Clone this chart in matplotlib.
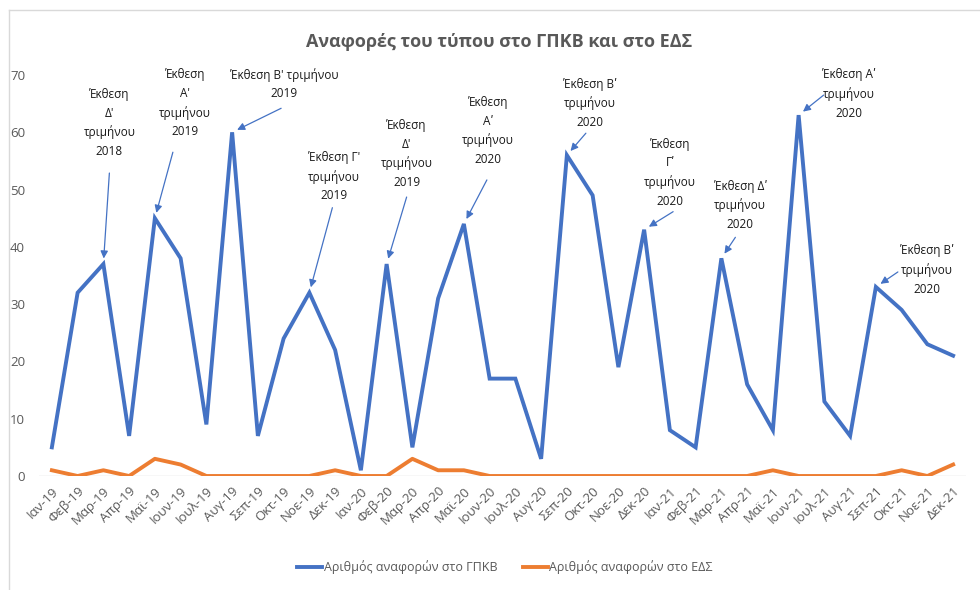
import matplotlib
matplotlib.use("Agg")
import matplotlib.pyplot as plt
from matplotlib.lines import Line2D

plt.rcParams['font.family'] = ['Open Sans', 'DejaVu Sans']

months = ["Ιαν-19", "Φεβ-19", "Μαρ-19", "Απρ-19", "Μαϊ-19", "Ιουν-19", "Ιουλ-19", "Αυγ-19",
          "Σεπ-19", "Οκτ-19", "Νοε-19", "Δεκ-19",
          "Ιαν-20", "Φεβ-20", "Μαρ-20", "Απρ-20", "Μαϊ-20", "Ιουν-20", "Ιουλ-20", "Αυγ-20",
          "Σεπ-20", "Οκτ-20", "Νοε-20", "Δεκ-20",
          "Ιαν-21", "Φεβ-21", "Μαρ-21", "Απρ-21", "Μαϊ-21", "Ιουν-21", "Ιουλ-21", "Αυγ-21",
          "Σεπ-21", "Οκτ-21", "Νοε-21", "Δεκ-21"]

gpkv = [5, 32, 37, 7, 45, 38, 9, 60, 7, 24, 32, 22,
        1, 37, 5, 31, 44, 17, 17, 3, 56, 49, 19, 43,
        8, 5, 38, 16, 8, 63, 13, 7, 33, 29, 23, 21]

eds = [1, 0, 1, 0, 3, 2, 0, 0, 0, 0, 0, 1,
       0, 0, 3, 1, 1, 0, 0, 0, 0, 0, 0, 0,
       0, 0, 0, 0, 1, 0, 0, 0, 0, 1, 0, 2]

series_names = ["Αριθμός αναφορών στο ΓΠΚΒ", "Αριθμός αναφορών στο ΕΔΣ"]
title = "Αναφορές του τύπου στο ΓΠΚΒ και στο ΕΔΣ"

# annotations: index of the month they point at, and their text
note_idx = [2, 4, 7, 10, 13, 16, 20, 23, 26, 29, 32]
note_text = [
    "Έκθεση\nΔ'\nτριμήνου\n2018",
    "Έκθεση\nΑ'\nτριμήνου\n2019",
    "Έκθεση Β' τριμήνου\n2019",
    "Έκθεση Γ'\nτριμήνου\n2019",
    "Έκθεση\nΔ'\nτριμήνου\n2019",
    "Έκθεση\nΑʹ\nτριμήνου\n2020",
    "Έκθεση Βʹ\nτριμήνου\n2020",
    "Έκθεση\nΓʹ\nτριμήνου\n2020",
    "Έκθεση Δʹ\nτριμήνου\n2020",
    "Έκθεση Αʹ\nτριμήνου\n2020",
    "Έκθεση Βʹ\nτριμήνου\n2020",
]
# layout offsets (pixels) relative to the annotated point: text centre, arrow tail
text_off = [(6, 141), (30, 115), (52, 48), (25, 116), (20, 110), (24, 93),
            (23, 52), (26, 57), (19, 53), (50, 21), (51, 17)]
tail_off = [(6, 91), (18, 66), (49, 24), (23, 85), (20, 67), (23, 44),
            (19, 22), (29, 18), (14, 21), (25, 20), (22, 15)]

BLUE = "#4472C4"
ORANGE = "#ED7D31"
GRAY = "#595959"

fig = plt.figure(figsize=(9.8, 5.9), dpi=100)
ax = fig.add_axes([39 / 980, 114 / 590, 927 / 980, 401 / 590])

x = list(range(len(months)))
ax.axhline(0, color="#D9D9D9", lw=1.0, zorder=0)
ax.plot(x, gpkv, color=BLUE, lw=2.8, solid_joinstyle="miter", zorder=3)
ax.plot(x, eds, color=ORANGE, lw=2.8, solid_joinstyle="round", zorder=3)

ax.set_xlim(-0.5, len(months) - 0.5)
ax.set_ylim(0, 70)
ax.set_yticks(range(0, 71, 10))
ax.set_xticks(x)
ax.set_xticklabels(months, rotation=45, ha="right", rotation_mode="anchor")
ax.tick_params(axis="both", length=0, labelsize=9.5, labelcolor=GRAY)
ax.tick_params(axis="y", pad=10)
ax.tick_params(axis="x", pad=6)
for s in ax.spines.values():
    s.set_visible(False)

for i, txt, to, tl in zip(note_idx, note_text, text_off, tail_off):
    px, py = i, gpkv[i]
    ax.annotate("", xy=(px, py), xytext=tl, textcoords="offset pixels",
                arrowprops=dict(arrowstyle="-|>", color=BLUE, lw=0.9,
                                shrinkA=0, shrinkB=4, mutation_scale=11),
                zorder=4)
    ax.annotate(txt, xy=(px, py), xytext=to, textcoords="offset pixels",
                ha="center", va="center", fontsize=8.5, color="#1a1a1a",
                linespacing=1.55, zorder=5)

fig.text(499 / 980, 1 - 42 / 590, title, ha="center", va="center",
         fontsize=13, fontweight="bold", color=GRAY)

handles = [Line2D([], [], color=BLUE, lw=2.8), Line2D([], [], color=ORANGE, lw=2.8)]
fig.legend(handles, series_names, loc="center", bbox_to_anchor=(505 / 980, 1 - 567 / 590),
           ncol=2, frameon=False, fontsize=9, labelcolor=GRAY, handlelength=2.0,
           handletextpad=0.15, columnspacing=2.0)

# outer chart border (top and left visible)
fig.add_artist(Line2D([9 / 980, 1.0], [1 - 10 / 590, 1 - 10 / 590], color="#D9D9D9", lw=1.0))
fig.add_artist(Line2D([9 / 980, 9 / 980], [0, 1 - 10 / 590], color="#D9D9D9", lw=1.0))

fig.savefig("out.png", dpi=100)
